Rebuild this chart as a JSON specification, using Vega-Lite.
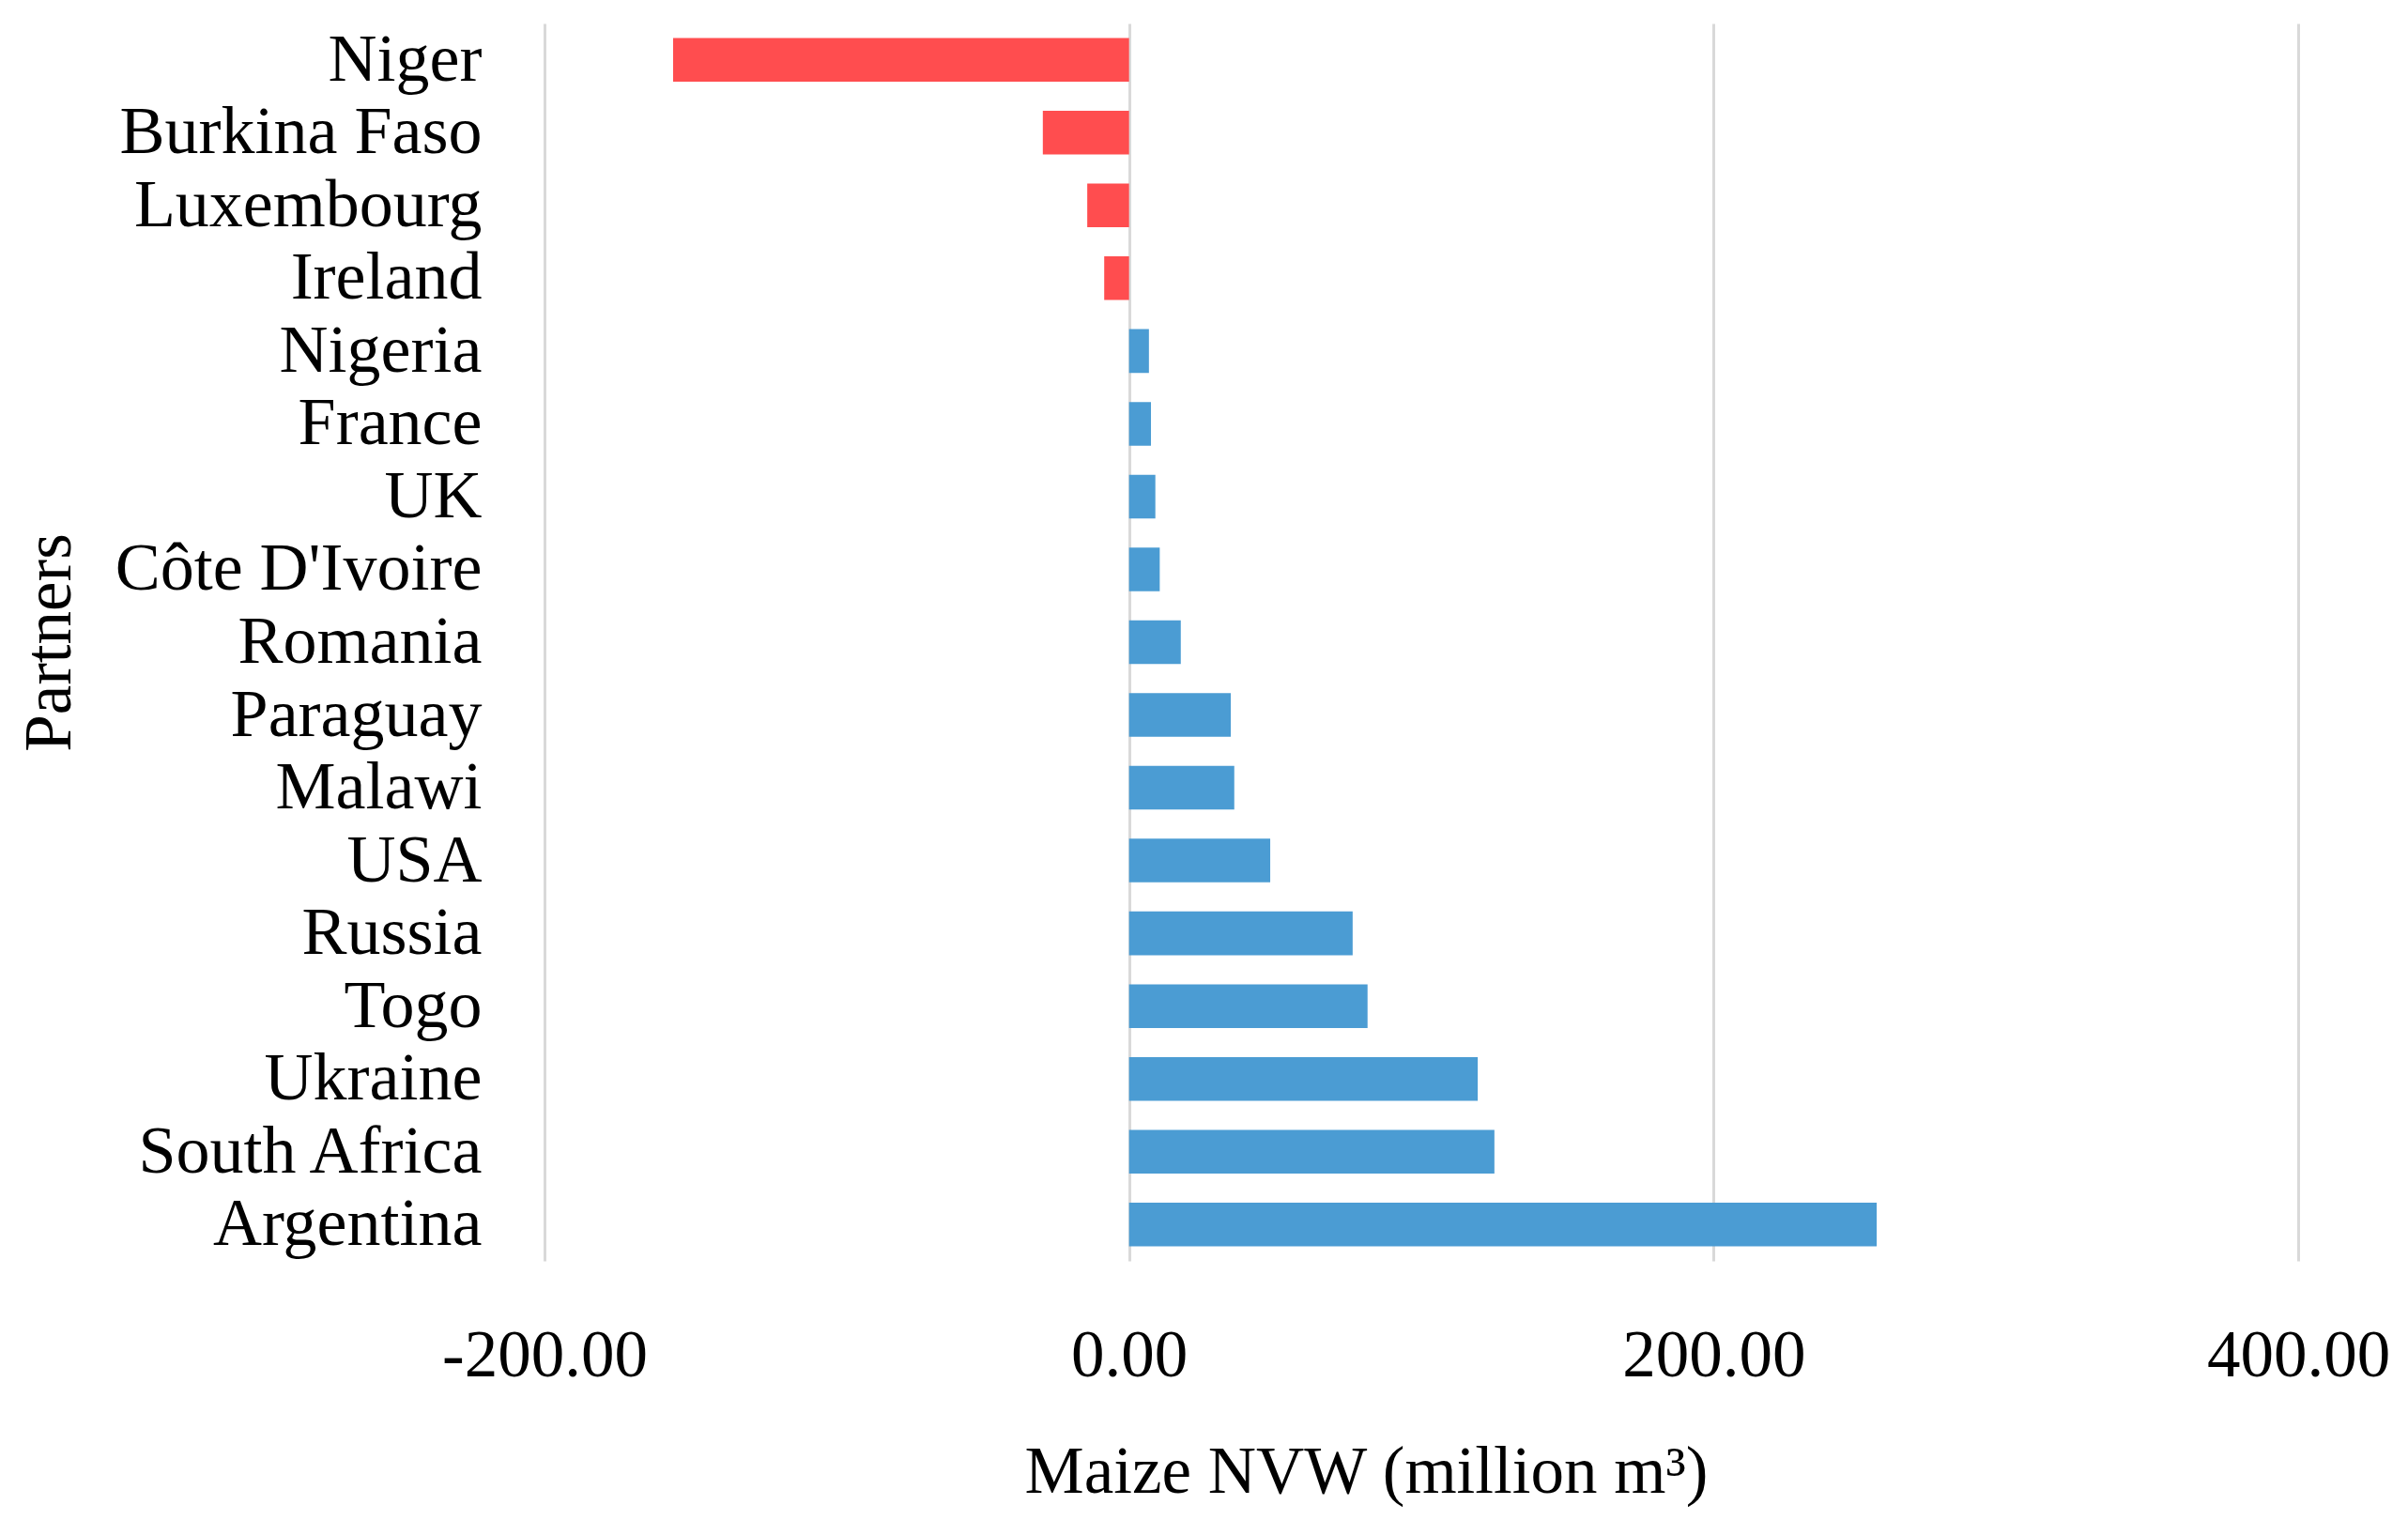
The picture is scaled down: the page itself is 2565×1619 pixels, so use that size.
{
  "$schema": "https://vega.github.io/schema/vega-lite/v6.json",
  "autosize": {"type": "none"},
  "padding": {"left": 580, "top": 25, "right": 117, "bottom": 276},
  "width": 1868,
  "height": 1318,
  "background": "white",
  "config": {
    "view": {"stroke": null},
    "font": "Liberation Serif"
  },
  "data": {
    "values": [
      {"partner": "Niger", "value": -156.0},
      {"partner": "Burkina Faso", "value": -29.5},
      {"partner": "Luxembourg", "value": -14.3},
      {"partner": "Ireland", "value": -8.5},
      {"partner": "Nigeria", "value": 6.8},
      {"partner": "France", "value": 7.5},
      {"partner": "UK", "value": 9.0},
      {"partner": "Côte D'Ivoire", "value": 10.5},
      {"partner": "Romania", "value": 17.7},
      {"partner": "Paraguay", "value": 34.8},
      {"partner": "Malawi", "value": 36.0},
      {"partner": "USA", "value": 48.3},
      {"partner": "Russia", "value": 76.5},
      {"partner": "Togo", "value": 81.6},
      {"partner": "Ukraine", "value": 119.3},
      {"partner": "South Africa", "value": 125.0},
      {"partner": "Argentina", "value": 255.8}
    ]
  },
  "mark": {"type": "bar"},
  "encoding": {
    "y": {
      "field": "partner",
      "type": "nominal",
      "sort": null,
      "scale": {"paddingInner": 0.4, "paddingOuter": 0.2},
      "axis": {
        "title": "Partners",
        "titleFont": "Liberation Serif",
        "titleFontSize": 71,
        "titleFontWeight": "normal",
        "titleColor": "black",
        "titleAngle": -90,
        "titleX": -527,
        "titleY": 659,
        "titleAlign": "center",
        "titleBaseline": "middle",
        "labelFont": "Liberation Serif",
        "labelFontSize": 72,
        "labelColor": "black",
        "labelPadding": 67,
        "labelLimit": 1000,
        "ticks": false,
        "domain": false,
        "grid": false
      }
    },
    "x": {
      "field": "value",
      "type": "quantitative",
      "scale": {"domain": [-200, 400], "nice": false, "zero": false},
      "axis": {
        "title": "Maize NVW (million m³)",
        "titleFont": "Liberation Serif",
        "titleFontSize": 71,
        "titleFontWeight": "normal",
        "titleColor": "black",
        "titleX": 875,
        "titleY": 225,
        "titleAlign": "center",
        "titleBaseline": "middle",
        "values": [-200, 0, 200, 400],
        "labelExpr": "replace(format(datum.value, '.2f'), '\u2212', '-')",
        "labelFont": "Liberation Serif",
        "labelFontSize": 71,
        "labelColor": "black",
        "labelPadding": 66,
        "labelLimit": 1000,
        "labelFlush": false,
        "labelOverlap": false,
        "ticks": false,
        "domain": false,
        "grid": true,
        "gridColor": "#D9D9D9",
        "gridWidth": 3
      }
    },
    "color": {
      "condition": {"test": "datum.value < 0", "value": "#FF4D4F"},
      "value": "#4B9CD3"
    }
  }
}
